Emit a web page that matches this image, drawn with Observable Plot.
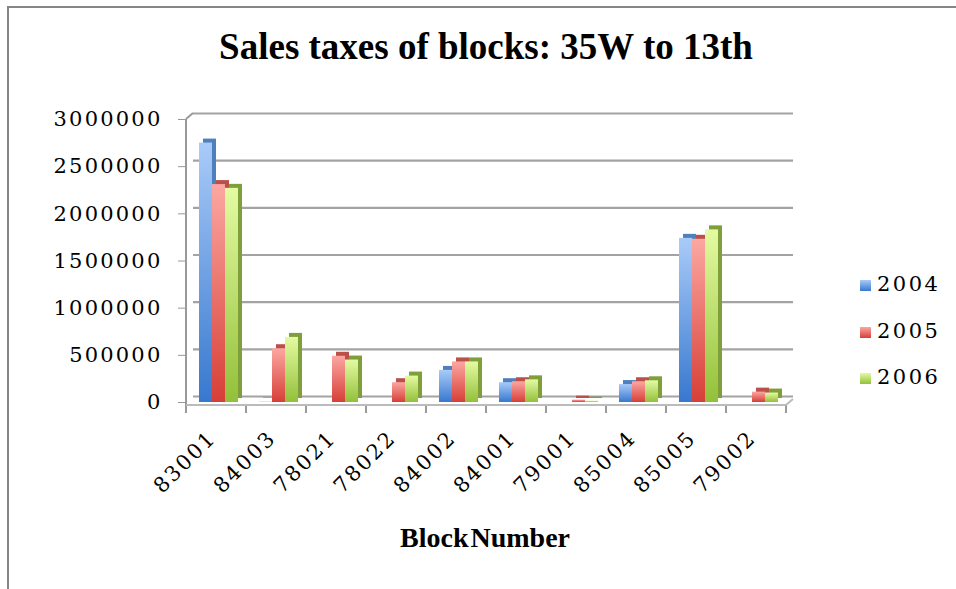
<!DOCTYPE html>
<html><head><meta charset="utf-8">
<script src="https://cdn.jsdelivr.net/npm/d3@7"></script>
<script src="https://cdn.jsdelivr.net/npm/@observablehq/plot@0.6"></script>
<style>
body{margin:0;background:#fff;}
#wrap{position:relative;width:956px;height:589px;overflow:hidden;font-family:"DejaVu Serif",serif;color:#000;}
#border{position:absolute;left:7px;top:6px;width:960px;height:600px;border-left:2.5px solid #858585;border-top:2.5px solid #858585;}
#title{position:absolute;top:25px;left:0;width:972px;text-align:center;font-family:"Liberation Serif",serif;font-weight:bold;font-size:37px;}
#chart{position:absolute;left:0;top:90px;}
#xlabel{position:absolute;top:522px;left:0;width:970px;text-align:center;font-family:"Liberation Serif",serif;font-weight:bold;font-size:28px;word-spacing:-5px;}
#legend{position:absolute;left:860px;top:272px;font-size:21px;letter-spacing:2.5px;}
#legend div{height:46.5px;display:flex;align-items:flex-start;}
#legend span.sw{display:inline-block;width:11px;height:11px;margin-right:6px;margin-top:8px;}
</style>
</head><body>
<svg width="0" height="0" style="position:absolute">
<defs>
<linearGradient id="g2004" x1="0" y1="0" x2="0" y2="1"><stop offset="0" stop-color="#a9cbf8"/><stop offset="1" stop-color="#3778cf"/></linearGradient>
<linearGradient id="g2005" x1="0" y1="0" x2="0" y2="1"><stop offset="0" stop-color="#fca7a2"/><stop offset="1" stop-color="#d63f37"/></linearGradient>
<linearGradient id="g2006" x1="0" y1="0" x2="0" y2="1"><stop offset="0" stop-color="#e4fba2"/><stop offset="1" stop-color="#93c03a"/></linearGradient>
<linearGradient id="gfloor" x1="0" y1="0" x2="0" y2="1"><stop offset="0" stop-color="#d8d8d8"/><stop offset="1" stop-color="#9a9a9a"/></linearGradient>
</defs>
</svg>
<div id="wrap">
<div id="border"></div>
<div id="title">Sales taxes of blocks: 35W to 13th</div>
<div id="chart"></div>
<div id="xlabel">Block Number</div>
<div id="legend"></div>
</div>
<script>
const blocks = ["83001","84003","78021","78022","84002","84001","79001","85004","85005","79002"];
const years = ["2004","2005","2006"];
const sales2004 = [2750000, 5000, 0, 0, 340000, 210000, 0, 190000, 1740000, 0];
const sales2005 = [2310000, 570000, 490000, 210000, 430000, 220000, 25000, 220000, 1730000, 110000];
const sales2006 = [2270000, 690000, 450000, 280000, 430000, 240000, 15000, 230000, 1830000, 100000];
const yTicks = [0, 500000, 1000000, 1500000, 2000000, 2500000, 3000000];
const yearFills = ["url(#g2004)", "url(#g2005)", "url(#g2006)"];
const sideFills = ["#4f7fbd", "#b9504a", "#7e9f3a"];

const series = [sales2004, sales2005, sales2006];
const data = [];
years.forEach((yr, i) => blocks.forEach((b, j) => data.push({block: b, year: yr, value: series[i][j]})));

const sideMarks = years.map((yr, i) =>
  Plot.barY(data.filter(d => d.year === yr && d.value > 0), {fx: "block", x: "year", y: "value", fill: sideFills[i], dx: 4, dy: -4})
);

const plot = Plot.plot({
  width: 956, height: 470,
  marginLeft: 182, marginRight: 166, marginTop: 29, marginBottom: 158,
  fx: {domain: blocks, padding: 0, label: null},
  x: {domain: years, paddingInner: 0, paddingOuter: 0.75, align: 0.6, axis: null},
  y: {domain: [0, 3000000], label: null},
  color: {domain: years, range: yearFills},
  style: {fontFamily: "DejaVu Serif", fontSize: "21px", color: "#000", background: "transparent", overflow: "visible", letterSpacing: "2.2px"},
  marks: [
    Plot.gridY(yTicks, {dx: 7, dy: -6, stroke: "#a3a3a3", strokeOpacity: 1, strokeWidth: 2.2}),
    Plot.ruleY([0], {stroke: "url(#gfloor)", strokeWidth: 7, dx: 3, dy: -2}),
    ...sideMarks,
    Plot.barY(data, {fx: "block", x: "year", y: "value", fill: "year"}),
    Plot.axisY(yTicks, {tickFormat: d3.format("d"), tickSize: 8, tickPadding: 16, fontSize: 21, label: null, stroke: "#999"}),
    Plot.axisFx({anchor: "bottom", tickRotate: -45, tickSize: 0, tickPadding: 32, dx: -4, fontSize: 21, label: null})
  ]
});
document.getElementById("chart").appendChild(plot);

// front axis line and band-boundary ticks from the library's scales
const fx = plot.scale("fx"), y = plot.scale("y");
const svg = d3.select(plot);
const y0 = y.apply(0), y3 = y.apply(3000000);
const g = svg.append("g").attr("stroke", "#999").attr("stroke-width", 2);
const x0 = fx.apply(blocks[0]);
g.append("line").attr("x1", x0).attr("x2", x0).attr("y1", y3).attr("y2", y0 + 4);
g.append("line").attr("x1", x0).attr("x2", x0 + 7).attr("y1", y3).attr("y2", y3 - 6);
blocks.forEach(b => {
  const xs = fx.apply(b);
  g.append("line").attr("x1", xs).attr("x2", xs).attr("y1", y0 + 2).attr("y2", y0 + 11);
});
const xe = fx.apply(blocks[blocks.length - 1]) + fx.bandwidth;
g.append("line").attr("x1", xe).attr("x2", xe).attr("y1", y0 + 2).attr("y2", y0 + 11);
g.append("line").attr("x1", x0).attr("x2", xe).attr("y1", y0 + 3).attr("y2", y0 + 3).attr("stroke", "#bbb");
g.append("line").attr("x1", xe).attr("x2", xe + 7).attr("y1", y0 + 3).attr("y2", y0 - 3).attr("stroke", "#bbb");

// legend
const legend = d3.select("#legend");
years.forEach((yr, i) => {
  const row = legend.append("div");
  row.append("span").attr("class", "sw").style("background", `linear-gradient(#${["a9cbf8","fca7a2","e4fba2"][i]}, #${["3778cf","d63f37","93c03a"][i]})`);
  row.append("span").text(yr);
});
</script>
</body></html>
